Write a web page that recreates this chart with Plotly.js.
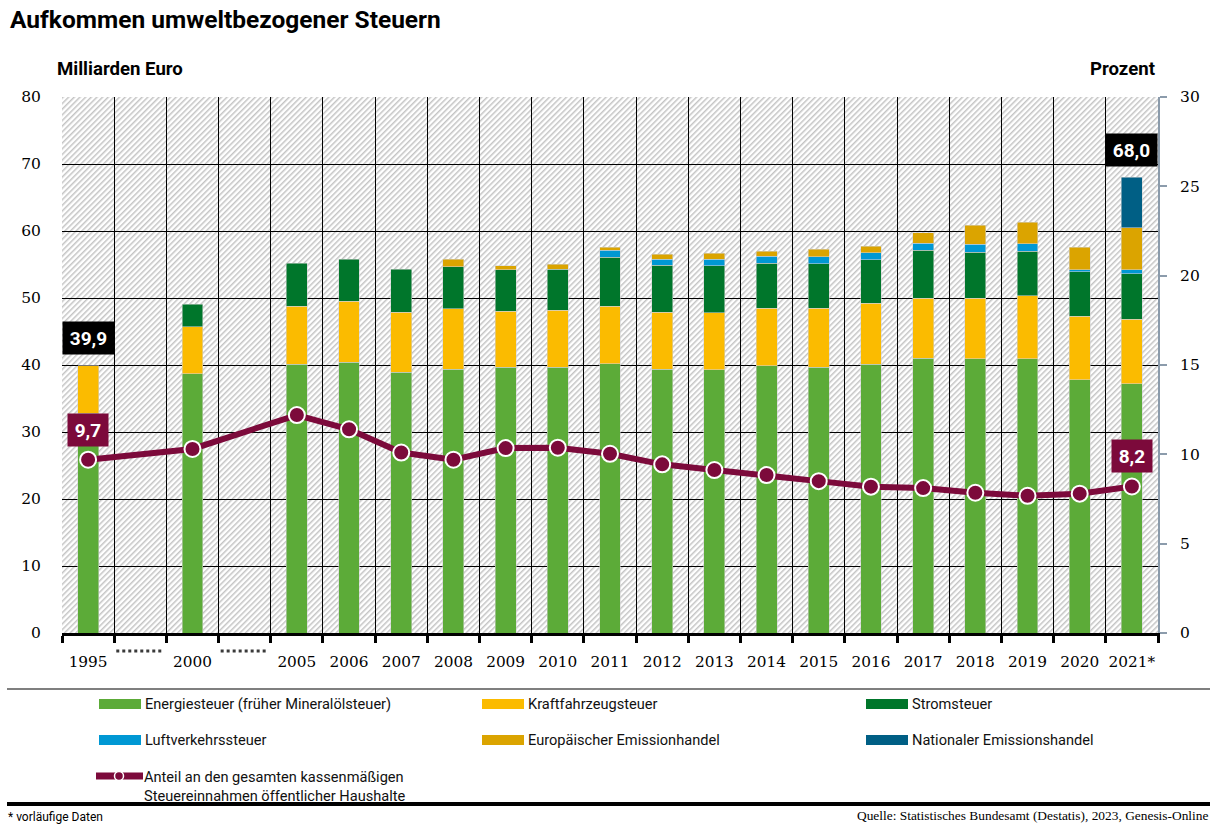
<!DOCTYPE html>
<html><head><meta charset="utf-8">
<script src="https://cdn.plot.ly/plotly-3.0.1.min.js"></script>
<style>html,body{margin:0;padding:0;background:#fff}#chart{width:1224px;height:834px}</style>
</head><body><div id="chart"></div>
<script>
// ---- data ----
// slots along the x axis; empty strings are the two gap slots (1996-1999, 2001-2004)
const xLabels = ['1995','','2000','','2005','2006','2007','2008','2009','2010','2011','2012','2013','2014','2015','2016','2017','2018','2019','2020','2021*'];
const energiesteuer   = [32.8, null, 38.7, null, 40.1, 40.4, 38.9, 39.4, 39.7, 39.7, 40.2, 39.4, 39.3, 39.9, 39.7, 40.1, 41.0, 40.9, 40.9, 37.8, 37.2];
const kraftfahrzeug   = [7.1, null, 7.0, null, 8.7, 9.1, 9.0, 9.0, 8.3, 8.5, 8.6, 8.5, 8.5, 8.6, 8.8, 9.1, 9.0, 9.1, 9.4, 9.5, 9.6];
const stromsteuer     = [null, null, 3.4, null, 6.4, 6.3, 6.4, 6.3, 6.2, 6.1, 7.3, 7.0, 7.0, 6.7, 6.6, 6.5, 7.1, 6.8, 6.7, 6.6, 6.8];
const luftverkehr     = [null, null, null, null, null, null, null, null, null, null, 1.0, 0.9, 1.0, 1.0, 1.05, 1.05, 1.1, 1.25, 1.1, 0.35, 0.6];
const euEmission      = [null, null, null, null, null, null, null, 1.1, 0.65, 0.75, 0.5, 0.75, 0.9, 0.75, 1.1, 0.95, 1.55, 2.8, 3.2, 3.3, 6.3];
const natEmission     = [null, null, null, null, null, null, null, null, null, null, null, null, null, null, null, null, null, null, null, null, 7.5];
const anteilProzent   = [9.7, null, 10.3, null, 12.2, 11.4, 10.1, 9.7, 10.35, 10.37, 10.03, 9.44, 9.12, 8.84, 8.5, 8.19, 8.11, 7.85, 7.68, 7.8, 8.2];
const seriesNames = ['Energiesteuer (früher Mineralölsteuer)','Kraftfahrzeugsteuer','Stromsteuer','Luftverkehrssteuer','Europäischer Emissionhandel','Nationaler Emissionshandel'];
const lineName = 'Anteil an den gesamten kassenmäßigen<br>Steuereinnahmen öffentlicher Haushalte';
const totalLabels = [{cat:'1995', value:39.9, text:'39,9'}, {cat:'2021*', value:68.0, text:'68,0'}];
const shareLabels = [{cat:'1995', value:9.7, text:'9,7'}, {cat:'2021*', value:8.2, text:'8,2'}];

// ---- derived positions (slot index) ----
const xs = xLabels.map((_, i) => i);
const tickVals = xs.filter(i => xLabels[i] !== '');
const tickText = tickVals.map(i => xLabels[i]);
const gapSlots = xs.filter(i => xLabels[i] === '');

// ---- styles ----
const colors = ['#5cab38','#fbbb00','#00762b','#0098d4','#dba400','#005f85'];
const lineColor = '#7c0a3b';
const SANS = '"Roboto", sans-serif';
const SERIF = '"DejaVu Serif", serif';
const SRC_SERIF = '"Liberation Serif", serif';

const seriesData = [energiesteuer, kraftfahrzeug, stromsteuer, luftverkehr, euEmission, natEmission];
const traces = seriesData.map((d, i) => ({
  type: 'bar', x: xs, y: d, name: seriesNames[i], width: 0.4,
  marker: {color: colors[i], line: {color: 'rgba(210,210,210,0.9)', width: 0.6}},
  hoverinfo: 'y+name', showlegend: false
}));
traces.push({
  type: 'scatter', mode: 'lines+markers', x: xs, y: anteilProzent, yaxis: 'y2',
  connectgaps: true, name: 'Anteil', showlegend: false,
  line: {color: lineColor, width: 6},
  marker: {size: 16, color: lineColor, line: {color: '#ffffff', width: 2}}
});

// hatch background
const hatchSvg = "<svg xmlns='http://www.w3.org/2000/svg' width='1096' height='536'><defs><pattern id='p' width='4' height='4' patternUnits='userSpaceOnUse' patternTransform='rotate(45)'><rect width='4' height='4' fill='#ffffff'/><line x1='0.75' y1='0' x2='0.75' y2='4' stroke='#c4c4c4' stroke-width='1.5'/></pattern></defs><rect width='100%' height='100%' fill='url(#p)'/></svg>";
const hatchUri = 'data:image/svg+xml;charset=utf-8,' + encodeURIComponent(hatchSvg);

// paper helpers
const PX0 = 62, PW = 1096, PY0 = 633, PH = 536;
const px = v => (v - PX0) / PW;
const py = v => (PY0 - v) / PH;

const shapes = [];
const annotations = [];

// dotted gap markers below axis
gapSlots.forEach(i => {
  shapes.push({type:'line', xref:'x', yref:'paper', x0: i - 0.46, x1: i + 0.41, y0: py(651), y1: py(651),
    line:{color:'#3a3a3a', width:3, dash:'dot'}});
});

// separators
shapes.push({type:'line', xref:'paper', yref:'paper', x0: px(7), x1: px(1210), y0: py(689), y1: py(689), line:{color:'#000', width:1.2}});
shapes.push({type:'line', xref:'paper', yref:'paper', x0: px(7), x1: px(1210), y0: py(804), y1: py(804), line:{color:'#000', width:4}});

// legend
const legCols = [99, 482, 866];
const legRows = [704, 740];
seriesNames.forEach((n, i) => {
  const cx = legCols[i % 3], ry = legRows[Math.floor(i / 3)];
  shapes.push({type:'rect', xref:'paper', yref:'paper', x0: px(cx), x1: px(cx + 42), y0: py(ry + 5), y1: py(ry - 5),
    fillcolor: colors[i], line:{width:0}});
  annotations.push({xref:'paper', yref:'paper', x: px(cx + 44), y: py(ry), xanchor:'left', yanchor:'middle',
    text: n, showarrow:false, font:{family: SANS, size: 14.6, color:'#111'}});
});
shapes.push({type:'line', xref:'paper', yref:'paper', x0: px(96), x1: px(143), y0: py(776), y1: py(776), line:{color: lineColor, width: 7}});
shapes.push({type:'circle', xref:'paper', yref:'paper', x0: px(114.5), x1: px(123.5), y0: py(780.5), y1: py(771.5), fillcolor: lineColor, line:{color:'#fff', width:1.5}});
annotations.push({xref:'paper', yref:'paper', x: px(142), y: py(786), xanchor:'left', yanchor:'middle', align:'left',
  text: lineName, showarrow:false, font:{family: SANS, size: 14.6, color:'#111'}});

// axis unit labels
annotations.push({xref:'paper', yref:'paper', x: px(55), y: py(69), xanchor:'left', yanchor:'middle', showarrow:false,
  text:'<b>Milliarden Euro</b>', font:{family: SANS, size: 18.6, color:'#000'}});
annotations.push({xref:'paper', yref:'paper', x: px(1157), y: py(69), xanchor:'right', yanchor:'middle', showarrow:false,
  text:'<b>Prozent</b>', font:{family: SANS, size: 18.6, color:'#000'}});

// footer
annotations.push({xref:'paper', yref:'paper', x: px(6), y: py(817), xanchor:'left', yanchor:'middle', showarrow:false,
  text:'* vorläufige Daten', font:{family: SANS, size: 12, color:'#000'}});
annotations.push({xref:'paper', yref:'paper', x: px(1211), y: py(815), xanchor:'right', yanchor:'middle', showarrow:false,
  text:'Quelle: Statistisches Bundesamt (Destatis), 2023, Genesis-Online', font:{family: SRC_SERIF, size: 13.4, color:'#000'}});

// value labels (slot index positions)
totalLabels.forEach(l => annotations.push({xref:'x', yref:'y', x: xLabels.indexOf(l.cat), y: l.value, yanchor:'bottom', yshift: 10.5,
  showarrow:false, text:'<b>' + l.text + '</b>', bgcolor:'#000', width: 51, height: 32, borderpad: 0,
  font:{family: SANS, size: 19, color:'#fff'}}));
shareLabels.forEach(l => annotations.push({xref:'x', yref:'y2', x: xLabels.indexOf(l.cat), y: l.value, yanchor:'bottom', yshift: 13,
  showarrow:false, text:'<b>' + l.text + '</b>', bgcolor: lineColor, width: 40, height: 32, borderpad: 0,
  font:{family: SANS, size: 19, color:'#fff'}}));

const layout = {
  width: 1224, height: 834,
  margin: {l: 62, r: 66, t: 97, b: 201},
  paper_bgcolor: '#fff', plot_bgcolor: '#fff',
  barmode: 'stack', bargap: 0.6,
  title: {text: '<b>Aufkommen umweltbezogener Steuern</b>', x: 10/1224, xref: 'container', xanchor: 'left',
    y: 1 - 19/834, yref: 'container', yanchor: 'middle', font: {family: SANS, size: 24.5, color: '#000'}},
  xaxis: {type: 'linear', range: [-0.5, xLabels.length - 0.5], tickmode: 'array', tickvals: tickVals, ticktext: tickText,
    ticks: '', showgrid: false, tickangle: 0,
    minor: {tick0: -0.5, dtick: 1, ticks: 'outside', ticklen: 7, tickwidth: 3, tickcolor: '#000',
      showgrid: true, gridcolor: '#000', gridwidth: 1},
    showline: true, linecolor: '#000', linewidth: 3, zeroline: false,
    tickfont: {family: SERIF, size: 15.3, color: '#000'}, ticklabelstandoff: 13, fixedrange: true},
  yaxis: {range: [0, 80], dtick: 10, showgrid: true, gridcolor: '#000', gridwidth: 1, zeroline: false, showline: false,
    ticks: 'outside', ticklen: 17, tickcolor: 'rgba(0,0,0,0)', tickfont: {family: SERIF, size: 15.5, color: '#000'}, fixedrange: true},
  yaxis2: {range: [0, 30], dtick: 5, overlaying: 'y', side: 'right', showgrid: false, zeroline: false,
    showline: true, linecolor: '#8b9bab', linewidth: 2, ticks: 'outside', ticklen: 7, tickwidth: 2, tickcolor: '#8b9bab',
    tickfont: {family: SERIF, size: 15.5, color: '#000'}, ticklabelstandoff: 10, fixedrange: true},
  images: [{source: hatchUri, xref: 'paper', yref: 'paper', x: 0, y: 1, sizex: 1, sizey: 1, sizing: 'stretch', layer: 'below', xanchor: 'left', yanchor: 'top'}],
  shapes: shapes, annotations: annotations, showlegend: false
};

Plotly.newPlot('chart', traces, layout, {displayModeBar: false, staticPlot: true});
</script></body></html>
